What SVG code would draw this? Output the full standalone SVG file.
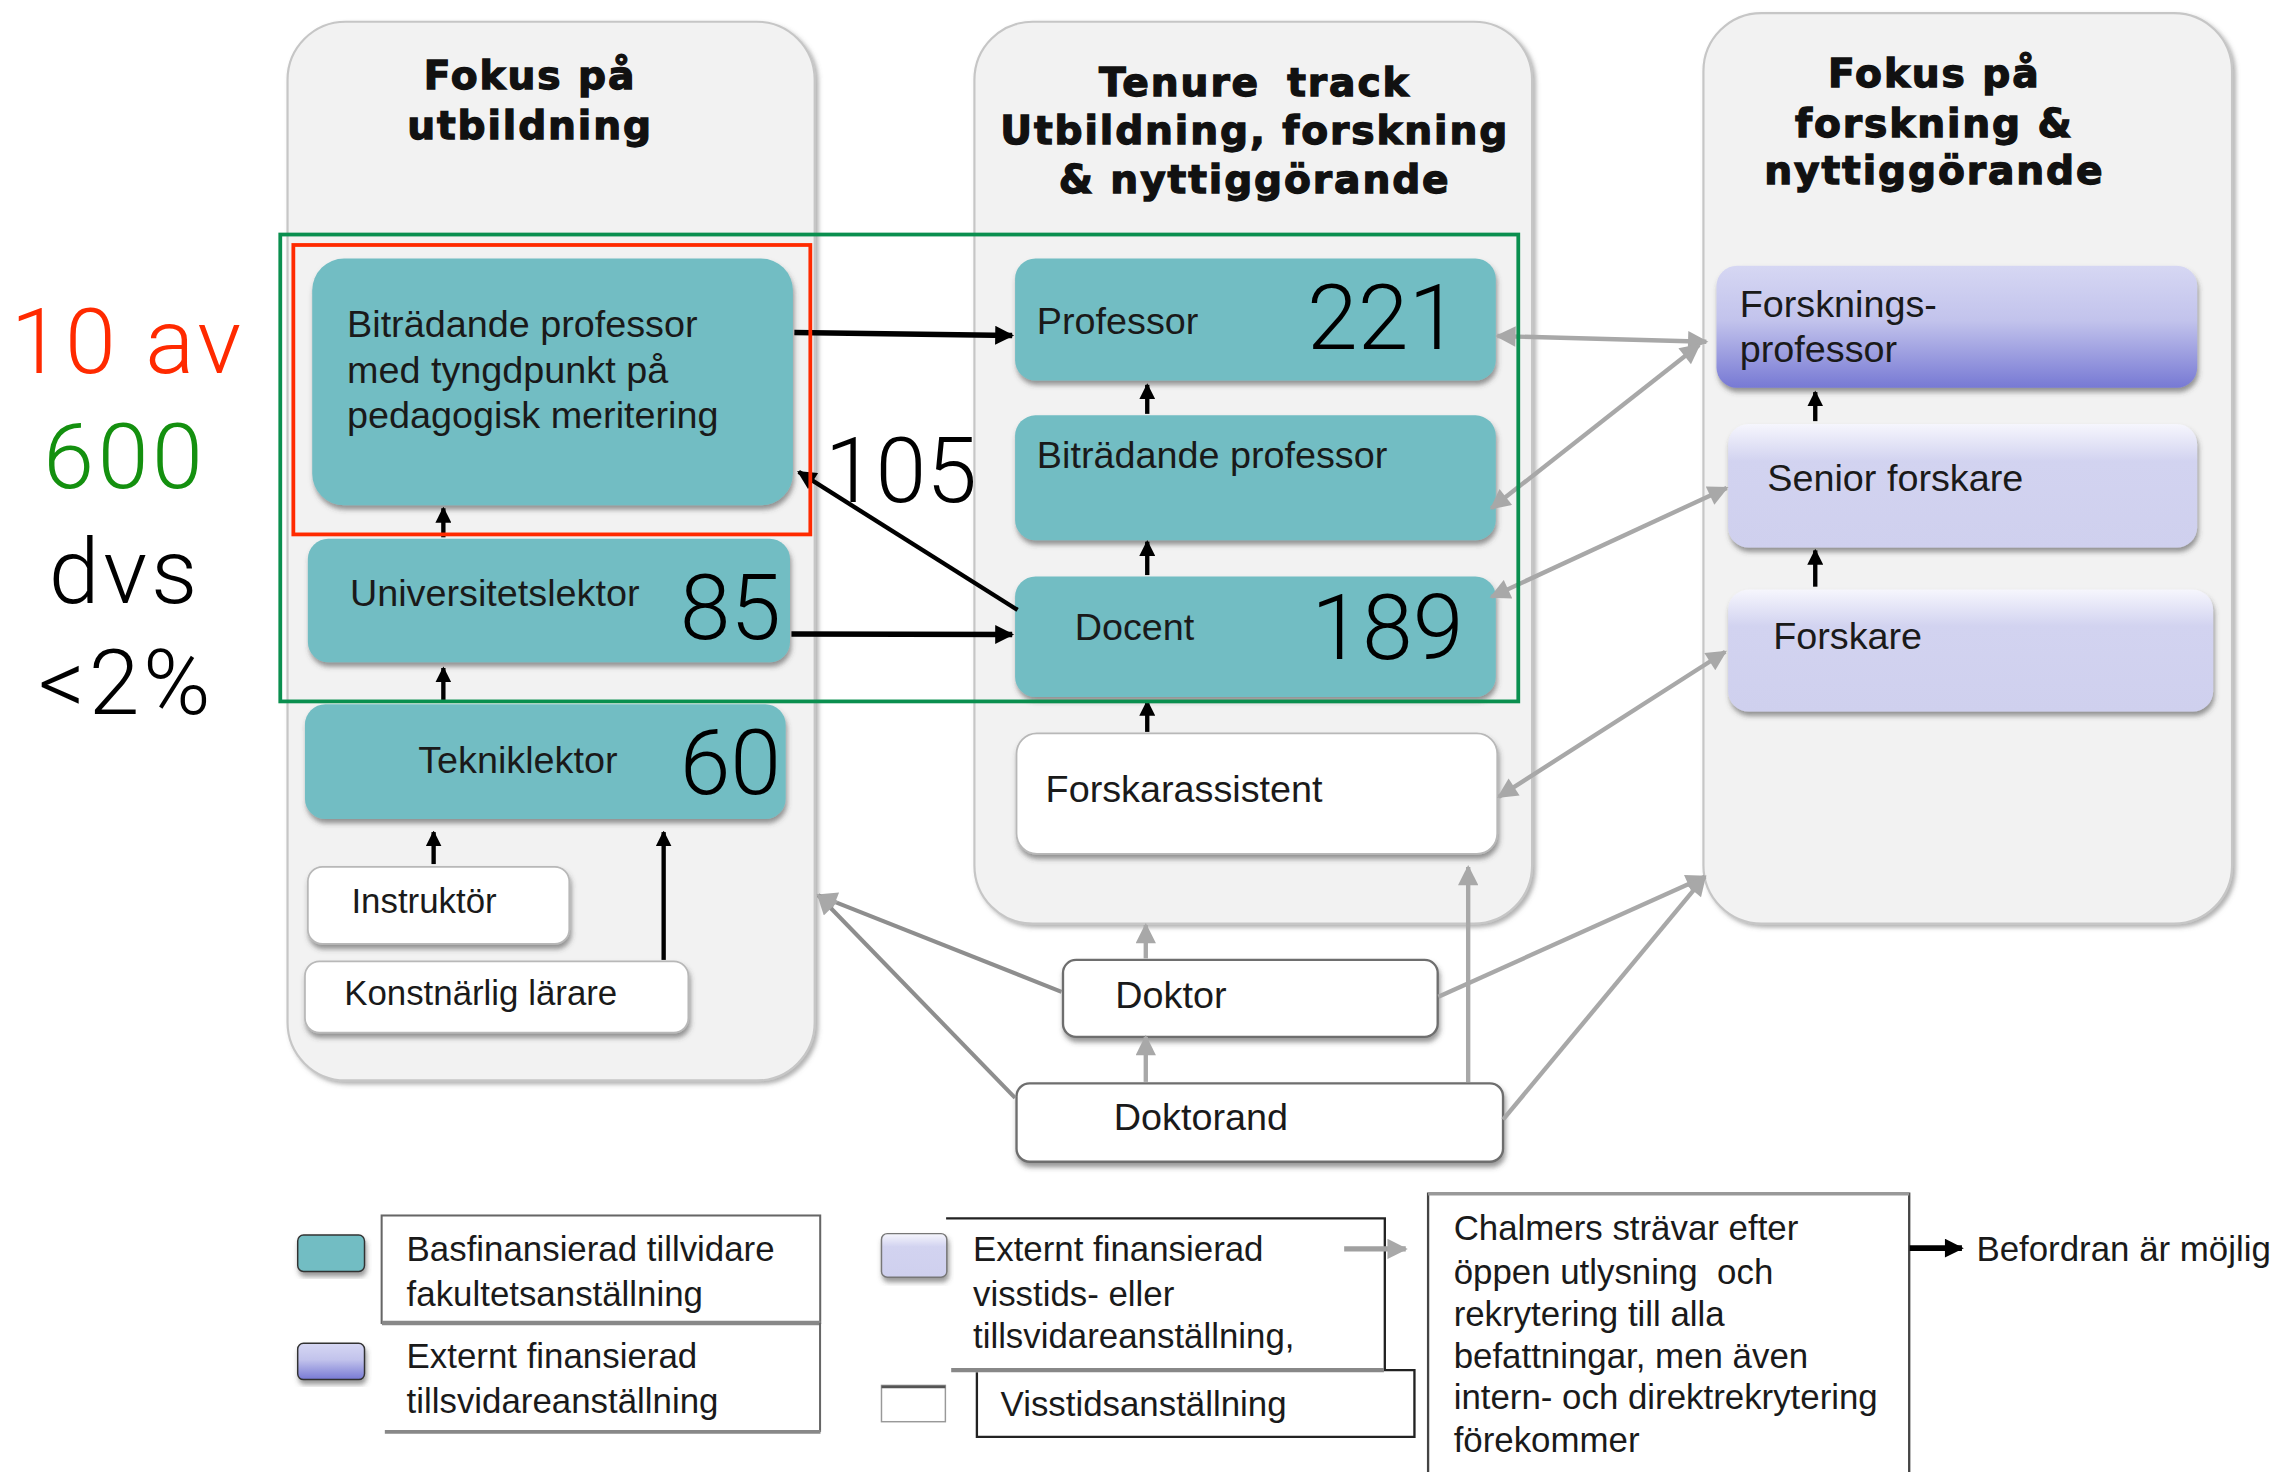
<svg xmlns="http://www.w3.org/2000/svg" width="2277" height="1472" viewBox="0 0 2277 1472">
<defs>
<style>
.panel{fill:#f2f2f2;stroke:#c6c6c6;stroke-width:1.5}
.teal{fill:#72bdc3}
.white{fill:#ffffff;stroke:#b8b8b8;stroke-width:1.2}
.wdark{fill:#ffffff;stroke:#6e6e6e;stroke-width:1.6}
.hdr{font-family:"DejaVu Sans",sans-serif;font-weight:bold;font-size:27px;letter-spacing:1.3px;text-anchor:middle;fill:#111;stroke:#111;stroke-width:0.9px}
.lbl{font-family:"Liberation Sans",Arial,sans-serif;font-size:26px;fill:#1a1a1a}
.lbl2{font-family:"Liberation Sans",Arial,sans-serif;font-size:24px;fill:#1a1a1a}
.leg{font-family:"Liberation Sans",Arial,sans-serif;font-size:24px;fill:#1a1a1a}
.num{font-family:Roboto,"Open Sans","Liberation Sans",sans-serif;font-weight:300;font-size:63px;fill:#000}
.big{font-family:Roboto,"Open Sans","Liberation Sans",sans-serif;font-weight:300;font-size:63px;letter-spacing:2.5px}
.cb{fill:none;stroke:#000;stroke-width:3.8}
.cs{fill:none;stroke:#000;stroke-width:3}
.cg{fill:none;stroke:#a8a8a8;stroke-width:3}
.cgd{fill:none;stroke:#8e8e8e;stroke-width:2.8}
</style>
<marker id="ab" viewBox="0 0 10 10" refX="9" refY="5" markerWidth="15" markerHeight="13" markerUnits="userSpaceOnUse" orient="auto-start-reverse"><path d="M0,0 L10,5 L0,10 z" fill="#000"/></marker>
<marker id="as" viewBox="0 0 10 10" refX="9" refY="5" markerWidth="11" markerHeight="11" markerUnits="userSpaceOnUse" orient="auto-start-reverse"><path d="M0,0 L10,5 L0,10 z" fill="#000"/></marker>
<marker id="ag" viewBox="0 0 10 10" refX="9" refY="5" markerWidth="16" markerHeight="14" markerUnits="userSpaceOnUse" orient="auto-start-reverse"><path d="M0,0 L10,5 L0,10 z" fill="#a8a8a8"/></marker>
<linearGradient id="gp" x1="0" y1="0" x2="0" y2="1"><stop offset="0" stop-color="#d6d7f3"/><stop offset="0.45" stop-color="#c2c3ec"/><stop offset="1" stop-color="#7779d4"/></linearGradient>
<linearGradient id="gl" x1="0" y1="0" x2="0" y2="1"><stop offset="0" stop-color="#f6f6fd"/><stop offset="0.3" stop-color="#d2d3f0"/><stop offset="1" stop-color="#cfd0ee"/></linearGradient>
<filter id="sh" x="-10%" y="-10%" width="120%" height="130%"><feDropShadow dx="1" dy="3" stdDeviation="1.8" flood-color="#444" flood-opacity="0.55"/></filter>
<filter id="psh" x="-10%" y="-10%" width="120%" height="120%"><feDropShadow dx="2" dy="2" stdDeviation="1.5" flood-color="#666" flood-opacity="0.5"/></filter>
</defs>
<rect x="0" y="0" width="2277" height="1472" fill="#ffffff"/>
<g transform="scale(1.4522)">

<g id="panel-left"><rect class="panel" x="198" y="15" width="363" height="729" rx="40" filter="url(#psh)"/>
<text class="hdr" x="365" y="61">Fokus på</text><text class="hdr" x="365" y="96">utbildning</text></g>
<g id="panel-middle"><rect class="panel" x="671" y="15" width="384" height="621" rx="40" filter="url(#psh)"/>
<text class="hdr" x="864" y="66" word-spacing="8">Tenure track</text><text class="hdr" x="864" y="99">Utbildning, forskning</text><text class="hdr" x="864" y="133">&amp; nyttiggörande</text></g>
<g id="panel-right"><rect class="panel" x="1173" y="9" width="364" height="627" rx="40" filter="url(#psh)"/>
<text class="hdr" x="1332" y="60">Fokus på</text><text class="hdr" x="1332" y="94">forskning &amp;</text><text class="hdr" x="1332" y="127">nyttiggörande</text></g>

<g id="node-bitr-ped"><rect class="teal" x="215" y="178" width="331" height="170" rx="22" filter="url(#sh)"/>
<text class="lbl" x="239" y="232">Biträdande professor</text><text class="lbl" x="239" y="264">med tyngdpunkt på</text><text class="lbl" x="239" y="295">pedagogisk meritering</text></g>
<g id="node-univlektor"><rect class="teal" x="212" y="371" width="332" height="85" rx="14" filter="url(#sh)"/>
<text class="lbl" x="241" y="417">Universitetslektor</text><text class="num" x="468" y="440">85</text></g>
<g id="node-tekniklektor"><rect class="teal" x="210" y="485" width="331" height="79" rx="14" filter="url(#sh)"/>
<text class="lbl" x="288" y="532">Tekniklektor</text><text class="num" x="468" y="547">60</text></g>
<g id="node-instruktor"><rect class="white" x="212" y="597" width="180" height="53" rx="10" filter="url(#sh)"/>
<text class="lbl2" x="242" y="629">Instruktör</text></g>
<g id="node-konstnarlig"><rect class="white" x="210" y="662" width="264" height="49" rx="10" filter="url(#sh)"/>
<text class="lbl2" x="237" y="692">Konstnärlig lärare</text></g>

<g id="node-professor"><rect class="teal" x="699" y="178" width="331" height="84" rx="14" filter="url(#sh)"/>
<text class="lbl" x="714" y="230">Professor</text><text class="num" x="900" y="240">221</text></g>
<g id="node-bitrprof"><rect class="teal" x="699" y="286" width="331" height="86" rx="14" filter="url(#sh)"/>
<text class="lbl" x="714" y="322">Biträdande professor</text></g>
<g id="node-docent"><rect class="teal" x="699" y="397" width="331" height="83" rx="14" filter="url(#sh)"/>
<text class="lbl" x="740" y="441">Docent</text><text class="num" x="903" y="454">189</text></g>
<g id="node-forskarassistent"><rect class="white" x="700" y="505" width="331" height="83" rx="14" stroke="#999" filter="url(#sh)"/>
<text class="lbl" x="720" y="552">Forskarassistent</text></g>
<g id="node-doktor"><rect class="wdark" x="732" y="661" width="258" height="53" rx="9" filter="url(#sh)"/>
<text class="lbl" x="768" y="694">Doktor</text></g>
<g id="node-doktorand"><rect class="wdark" x="700" y="746" width="335" height="54" rx="9" filter="url(#sh)"/>
<text class="lbl" x="767" y="778">Doktorand</text></g>

<g id="node-forskprof"><rect x="1182" y="183" width="331" height="84" rx="14" fill="url(#gp)" filter="url(#sh)"/>
<text class="lbl" x="1198" y="218">Forsknings-</text><text class="lbl" x="1198" y="249">professor</text></g>
<g id="node-senior"><rect x="1190" y="292" width="323" height="85" rx="14" fill="url(#gl)" filter="url(#sh)"/>
<text class="lbl" x="1217" y="338">Senior forskare</text></g>
<g id="node-forskare"><rect x="1190" y="406" width="334" height="84" rx="14" fill="url(#gl)" filter="url(#sh)"/>
<text class="lbl" x="1221" y="447">Forskare</text></g>

<g id="connectors">
<path class="cb" d="M547,229 L697,231" marker-end="url(#ab)"/>
<path class="cb" d="M545,436.5 L697,437" marker-end="url(#ab)"/>
<path class="cs" d="M700.7,420 L550,325" marker-end="url(#ab)"/>
<path class="cs" d="M305.3,370 L305.3,350" marker-end="url(#as)"/>
<path class="cs" d="M305.3,482 L305.3,460" marker-end="url(#as)"/>
<path class="cs" d="M298.6,595 L298.6,573" marker-end="url(#as)"/>
<path class="cs" d="M457,661 L457,573" marker-end="url(#as)"/>
<path class="cs" d="M790,285 L790,265" marker-end="url(#as)"/>
<path class="cs" d="M790,396 L790,373" marker-end="url(#as)"/>
<path class="cs" d="M790,504 L790,483" marker-end="url(#as)"/>
<path class="cs" d="M1250,290 L1250,270" marker-end="url(#as)"/>
<path class="cs" d="M1250,404 L1250,379" marker-end="url(#as)"/>
<path class="cg" d="M1031,231.4 L1175,235.3" stroke-width="4" marker-start="url(#ag)" marker-end="url(#ag)"/>
<path class="cg" d="M1027,350 L1170,237.6" marker-start="url(#ag)" marker-end="url(#ag)"/>
<path class="cg" d="M1027,411 L1189,336" marker-start="url(#ag)" marker-end="url(#ag)"/>
<path class="cg" d="M1032,548.7 L1188,448.8" marker-start="url(#ag)" marker-end="url(#ag)"/>
<path class="cg" d="M990.5,686.4 L1174,603.7" marker-end="url(#ag)"/>
<path class="cg" d="M1035,771 L1174,603.7" marker-end="url(#ag)"/>
<path class="cgd" d="M731,683 L563.5,616.5" marker-end="url(#ag)"/>
<path class="cgd" d="M699,756 L563.5,616.5" marker-end="url(#ag)"/>
<path class="cg" d="M1011,745 L1011,597" marker-end="url(#ag)"/>
<path class="cg" d="M789,660 L789,637" marker-end="url(#ag)"/>
<path class="cg" d="M789,745 L789,714" stroke-width="3.5" marker-end="url(#ag)"/>
</g>

<g id="highlight">
<rect x="193" y="161.5" width="852.5" height="321.5" fill="none" stroke="#0a8f4f" stroke-width="2.6"/>
<rect x="202" y="168.7" width="356" height="199.3" fill="none" stroke="#ff2a00" stroke-width="2.6"/>
<text class="num" x="568" y="346">105</text>
<text class="big" x="88" y="257" text-anchor="middle" fill="#ff2a00">10 av</text>
<text class="big" x="86" y="336" text-anchor="middle" fill="#14900f">600</text>
<text class="big" x="86" y="415" text-anchor="middle" fill="#000">dvs</text>
<text class="big" x="87" y="492" text-anchor="middle" fill="#000">&lt;2%</text>
</g>

<g id="legend">
<rect x="205" y="850.5" width="46" height="25" rx="4" fill="#72bdc3" stroke="#333" stroke-width="1" filter="url(#sh)"/>
<rect x="205" y="925" width="46" height="25" rx="4" fill="url(#gp)" stroke="#333" stroke-width="1" filter="url(#sh)"/>
<rect x="607" y="849.5" width="45" height="30" rx="4" fill="url(#gl)" stroke="#777" stroke-width="1" filter="url(#sh)"/>
<rect x="607" y="954" width="44" height="25" fill="#fff" stroke="#999" stroke-width="1"/>
<path d="M607,955 L651,955" stroke="#555" stroke-width="2"/>
<rect x="262.8" y="837" width="302" height="74" fill="none" stroke="#666" stroke-width="1.4"/>
<path d="M263,911 L565,911" stroke="#888" stroke-width="3"/>
<path d="M564.7,911 L564.7,986" stroke="#666" stroke-width="1.4" fill="none"/>
<path d="M265,986 L565,986" stroke="#888" stroke-width="2.5"/>
<path d="M651.5,839 L953.6,839 L953.6,943.5 L974,943.5 L974,989.4 L672.7,989.4 L672.7,945" stroke="#222" stroke-width="1.6" fill="none"/>
<path d="M655,943.5 L953,943.5" stroke="#888" stroke-width="3"/>
<path d="M983.4,1014 L983.4,822 L1314.7,822 L1314.7,1014" stroke="#444" stroke-width="1.6" fill="none"/>
<path d="M983.4,822 L1314.7,822" stroke="#999" stroke-width="2.5"/>
<path d="M925.6,860 L968,860" stroke="#a0a0a0" stroke-width="3.5" marker-end="url(#ag)"/>
<path d="M1315,859.5 L1351,859.5" stroke="#000" stroke-width="4" marker-end="url(#ab)"/>
<text class="leg" x="280" y="868">Basfinansierad tillvidare</text>
<text class="leg" x="280" y="899">fakultetsanställning</text>
<text class="leg" x="280" y="942">Externt finansierad</text>
<text class="leg" x="280" y="973">tillsvidareanställning</text>
<text class="leg" x="670" y="868">Externt finansierad</text>
<text class="leg" x="670" y="899">visstids- eller</text>
<text class="leg" x="670" y="928">tillsvidareanställning,</text>
<text class="leg" x="689" y="975">Visstidsanställning</text>
<text class="leg" x="1001" y="854">Chalmers strävar efter</text>
<text class="leg" x="1001" y="884" xml:space="preserve">öppen utlysning  och</text>
<text class="leg" x="1001" y="913">rekrytering till alla</text>
<text class="leg" x="1001" y="942">befattningar, men även</text>
<text class="leg" x="1001" y="970">intern- och direktrekrytering</text>
<text class="leg" x="1001" y="1000">förekommer</text>
<text class="leg" x="1361" y="868">Befordran är möjlig</text>
</g>
</g>
</svg>
